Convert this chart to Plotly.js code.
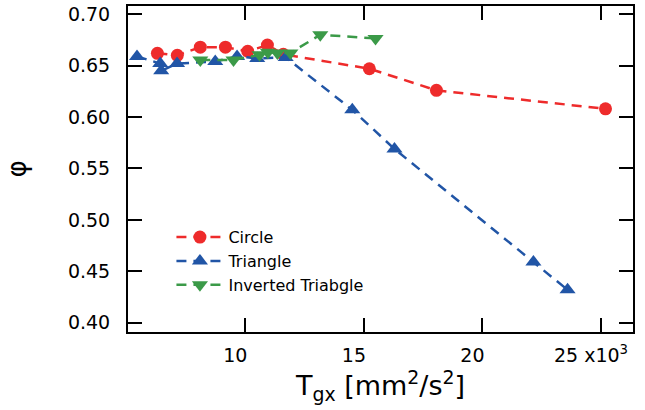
<!DOCTYPE html>
<html>
<head>
<meta charset="utf-8">
<script src="https://cdn.plot.ly/plotly-3.0.1.min.js"></script>
<style>html,body{margin:0;padding:0;background:#fff;}#chart{width:645px;height:410px;}</style>
</head>
<body>
<div id="chart"></div>
<script>
// Data (x in units of 10^3 mm^2/s^2)
const circleX = [6.29, 7.13, 8.10, 9.16, 10.1, 10.93, 11.6, 15.23, 18.06, 25.19];
const circleY = [0.662, 0.660, 0.668, 0.668, 0.664, 0.670, 0.661, 0.647, 0.626, 0.608];
const triX = [5.43, 6.41, 6.45, 7.12, 8.73, 9.65, 10.5, 11.7, 14.51, 16.29, 22.15, 23.59];
const triY = [0.659, 0.652, 0.645, 0.652, 0.654, 0.659, 0.657, 0.658, 0.607, 0.569, 0.459, 0.432];
const invX = [8.1, 9.5, 10.6, 10.95, 11.35, 11.9, 13.16, 15.49];
const invY = [0.6556, 0.6556, 0.6605, 0.663, 0.6624, 0.6624, 0.680, 0.6765];
const xTickVals = [10, 15, 20, 25];
const xTickText = ["10", "15", "20", "25 x10<sup>3</sup>"];
const yTickVals = [0.40, 0.45, 0.50, 0.55, 0.60, 0.65, 0.70];
const yTickText = ["0.40", "0.45", "0.50", "0.55", "0.60", "0.65", "0.70"];
const names = ["Circle", "Triangle", "Inverted Triabgle"];

const red = "#ee2b2b", blue = "#2155a6", green = "#3b9a48";
const dash = "10px,7px";

const traces = [
  {x: circleX, y: circleY, name: names[0], mode: "lines+markers",
   line: {color: red, width: 2.5, dash: dash},
   marker: {symbol: "circle", size: 13, color: red}},
  {x: triX, y: triY, name: names[1], mode: "lines+markers",
   line: {color: blue, width: 2.5, dash: dash},
   marker: {symbol: "triangle-up", size: 14, color: blue}},
  {x: invX, y: invY, name: names[2], mode: "lines+markers",
   line: {color: green, width: 2.5, dash: dash},
   marker: {symbol: "triangle-down", size: 14, color: green}}
];

const tickFont = {family: "DejaVu Sans, sans-serif", size: 19, color: "#000"};

const layout = {
  width: 645, height: 410,
  margin: {l: 128, r: 12, t: 6, b: 78},
  paper_bgcolor: "#fff", plot_bgcolor: "#fff",
  showlegend: true,
  legend: {x: 0.086, y: 0.343, xanchor: "left", yanchor: "top",
    bgcolor: "rgba(0,0,0,0)", borderwidth: 0,
    font: {family: "DejaVu Sans, sans-serif", size: 16, color: "#000"},
    tracegroupgap: 0, itemwidth: 47},
  xaxis: {
    range: [5.05, 26.35], tickmode: "array", tickvals: xTickVals, ticktext: xTickText,
    ticks: "inside", ticklen: 14, tickwidth: 2, tickcolor: "#000",
    showline: true, linewidth: 2, linecolor: "#000", mirror: "ticks",
    showgrid: false, zeroline: false, tickfont: tickFont,
    ticklabelstandoff: 5, ticklabelshift: -10,
    title: {text: "T<sub>gx</sub> [mm<sup>2</sup>/s<sup>2</sup>]", font: {family: "DejaVu Sans, sans-serif", size: 27, color: "#000"}, standoff: 2}
  },
  yaxis: {
    range: [0.391, 0.708], tickmode: "array", tickvals: yTickVals, ticktext: yTickText,
    ticks: "inside", ticklen: 14, tickwidth: 2, tickcolor: "#000",
    showline: true, linewidth: 2, linecolor: "#000", mirror: "ticks",
    showgrid: false, zeroline: false, tickfont: tickFont,
    ticklabelstandoff: 12,
    title: {text: "φ", font: {family: "DejaVu Sans, sans-serif", size: 26, color: "#000"}, standoff: 34}
  }
};

Plotly.newPlot("chart", traces, layout, {displayModeBar: false, staticPlot: true});
</script>
</body>
</html>
